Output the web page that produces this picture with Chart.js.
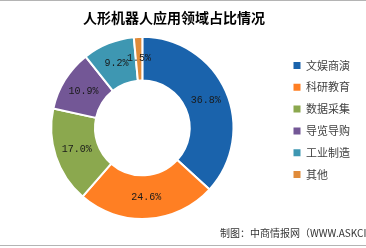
<!DOCTYPE html>
<html>
<head>
<meta charset="utf-8">
<script src="https://cdn.jsdelivr.net/npm/chart.js@4"></script>
<style>
  html, body { margin: 0; padding: 0; background: #fff; }
  #wrap { position: relative; width: 366px; height: 248px; overflow: hidden; }
  #wrap:before { content: ''; position: absolute; left: 0; top: 0; width: 366px; height: 1px; background: #b4b4b4; }
  #wrap:after { content: ''; position: absolute; left: 0; top: 245px; width: 366px; height: 1px; background: #b4b4b4; }
  #source { position: absolute; left: 220px; top: 225px; font: 10px "Noto Sans CJK SC", sans-serif; color: #333; white-space: nowrap; }
</style>
</head>
<body>
<div id="wrap">
  <canvas id="chart1" width="366" height="248"></canvas>
  <div id="source">制图：中商情报网（WWW.ASKCI.COM）</div>
</div>
<script>
const labels = ['文娱商演', '科研教育', '数据采集', '导览导购', '工业制造', '其他'];
const values = [36.8, 24.6, 17.0, 10.9, 9.2, 1.5];
const colors = ['#1a63ac', '#ff7f23', '#8ba84e', '#735796', '#3e97b2', '#e08b3a'];

// percent labels in the middle of each ring segment
const sliceLabels = {
  id: 'sliceLabels',
  afterDatasetsDraw(chart) {
    const ctx = chart.ctx;
    const meta = chart.getDatasetMeta(0);
    ctx.save();
    ctx.font = '10px "Liberation Mono", monospace';
    ctx.fillStyle = '#1a1a1a';
    ctx.textAlign = 'center';
    ctx.textBaseline = 'middle';
    meta.data.forEach((arc, i) => {
      const p = arc.tooltipPosition();
      ctx.fillText(values[i].toFixed(1) + '%', p.x, p.y);
    });
    ctx.restore();
  }
};

Chart.defaults.font.family = '"Noto Sans CJK SC", sans-serif';

new Chart(document.getElementById('chart1'), {
  type: 'doughnut',
  data: {
    labels: labels,
    datasets: [{
      data: values,
      backgroundColor: colors,
      borderColor: '#ffffff',
      borderWidth: 2
    }]
  },
  options: {
    responsive: false,
    animation: false,
    cutout: '52%',
    layout: { padding: { left: 2, right: 6, top: 0, bottom: 28 } },
    plugins: {
      title: {
        display: true,
        // trailing ideographic space nudges the centred title a little left
        text: '人形机器人应用领域占比情况\u3000',
        color: '#000',
        font: { size: 14, weight: 'bold' },
        padding: { top: 9, bottom: 10 }
      },
      legend: {
        position: 'right',
        // blank legend title, only used to push the items down a bit
        title: { display: true, text: ' ', font: { size: 10 }, padding: 4 },
        labels: {
          boxWidth: 7,
          boxHeight: 7,
          padding: 10.8,
          color: '#404040',
          font: { size: 11 },
          generateLabels(chart) {
            const items = Chart.overrides.doughnut.plugins.legend.labels.generateLabels(chart);
            items.forEach(it => { it.lineWidth = 0; it.strokeStyle = it.fillStyle; });
            return items;
          }
        }
      },
      tooltip: { enabled: false }
    }
  },
  plugins: [sliceLabels]
});
</script>
</body>
</html>
